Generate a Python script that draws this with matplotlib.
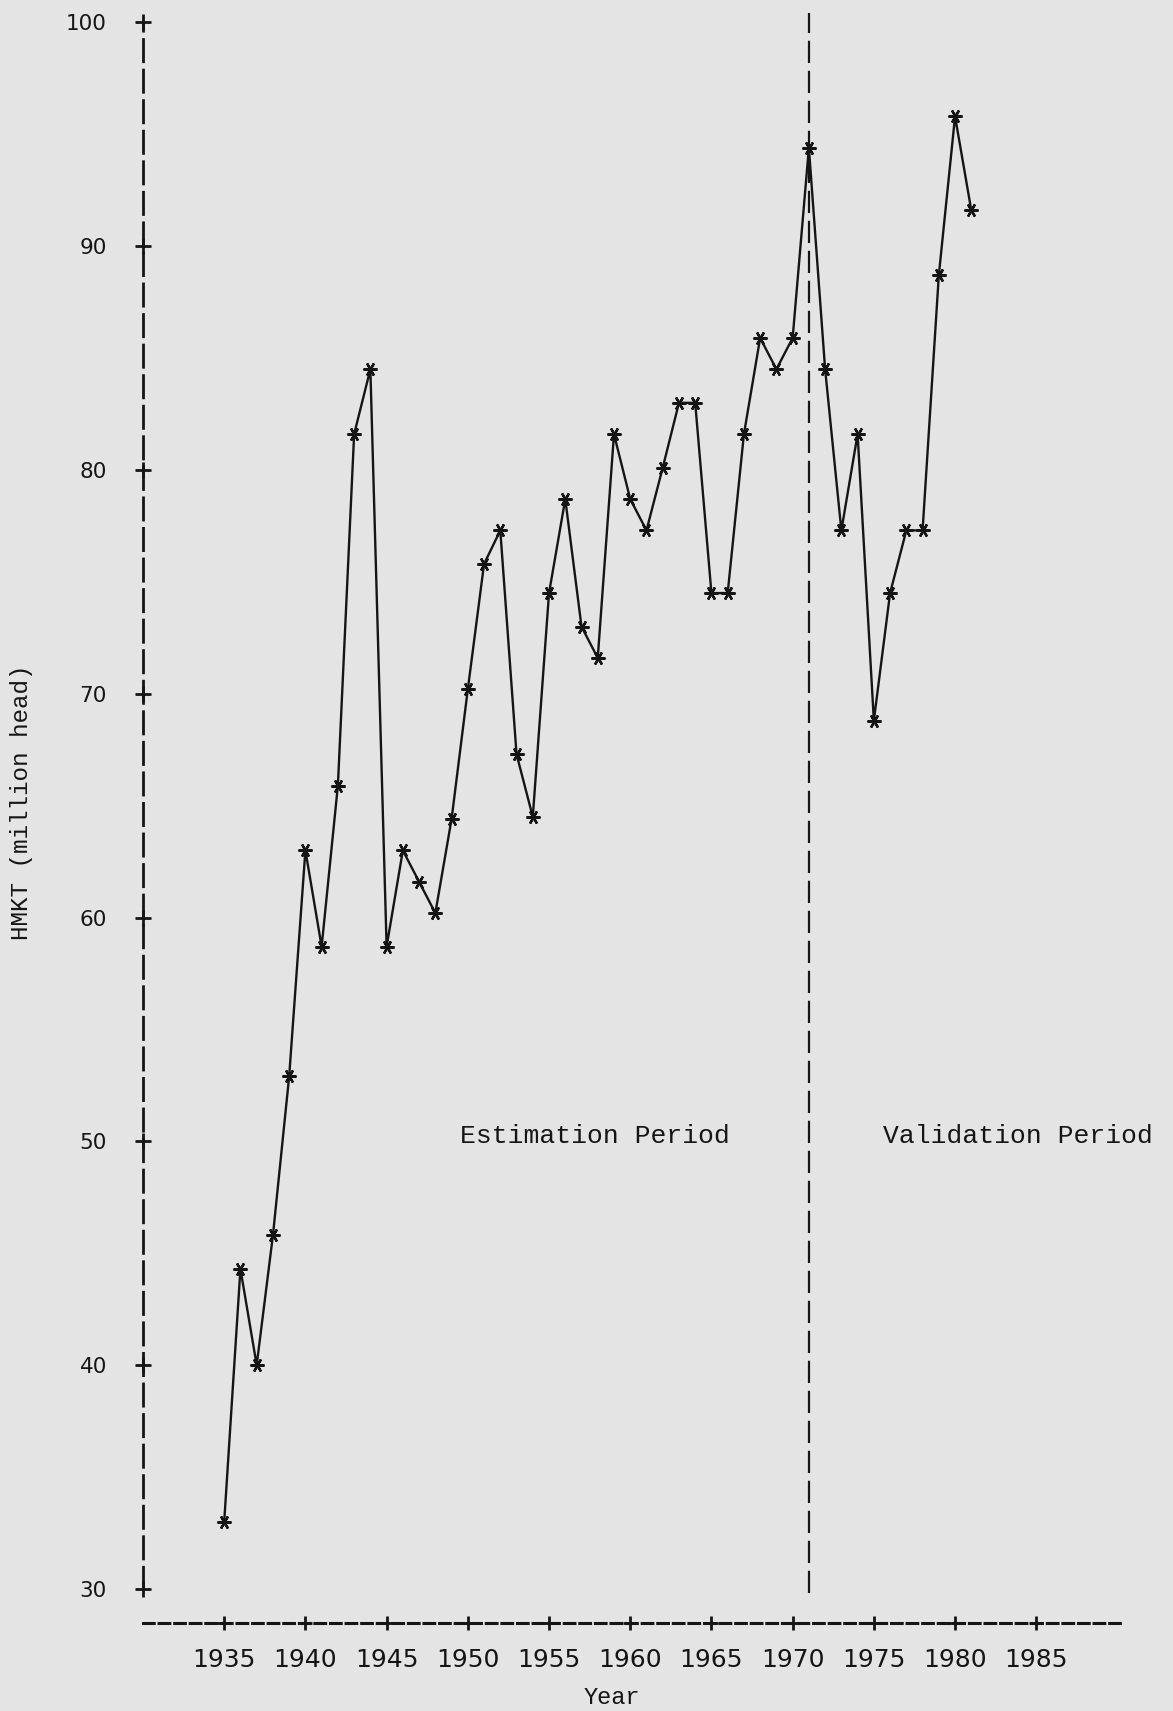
import matplotlib
matplotlib.use('Agg')
import matplotlib.pyplot as plt

# datos
years = list(range(1935, 1982))
hmkt = [33.0, 44.3, 40.0, 45.8, 52.9, 63.0, 58.7, 65.9, 81.6, 84.5,
        58.7, 63.0, 61.6, 60.2, 64.4, 70.2, 75.8, 77.3, 67.3, 64.5,
        74.5, 78.7, 73.0, 71.6, 81.6, 78.7, 77.3, 80.1, 83.0, 83.0,
        74.5, 74.5, 81.6, 85.9, 84.5, 85.9, 94.4, 84.5, 77.3, 81.6,
        68.8, 74.5, 77.3, 77.3, 88.7, 95.8, 91.6]
split_year = 1971
xticks = [1935, 1940, 1945, 1950, 1955, 1960, 1965, 1970, 1975, 1980, 1985]
yticks = [30, 40, 50, 60, 70, 80, 90, 100]

bg = '#e4e4e4'
ink = '#151515'

fig = plt.figure(figsize=(11.73, 17.11), dpi=100, facecolor=bg)
ax = fig.add_axes([0.1219, 0.0517, 0.8363, 0.9483])
ax.set_facecolor(bg)
ax.set_xlim(1930, 1990.4)
ax.set_ylim(28.5, 101)

# ejes punteados estilo impresora
for s in ['top', 'right']:
    ax.spines[s].set_visible(False)
ax.spines['left'].set_bounds(30, 100)
ax.spines['left'].set_linestyle((0, (8, 3)))
ax.spines['left'].set_linewidth(2)
ax.spines['left'].set_color(ink)
ax.spines['bottom'].set_linestyle((0, (3.5, 1.6)))
ax.spines['bottom'].set_linewidth(2.2)
ax.spines['bottom'].set_color(ink)

ax.set_xticks(xticks)
ax.set_yticks(yticks)
ax.set_xticklabels([str(x) for x in xticks],
                   family=['Liberation Sans Narrow', 'DejaVu Sans'], fontsize=18)
ax.set_yticklabels([str(y) for y in yticks], family='DejaVu Sans', fontsize=15.5)
ax.tick_params(axis='x', length=0, pad=18, colors=ink)
ax.tick_params(axis='y', length=0, pad=26, colors=ink)

# marcas '+' sobre los ejes
ax.plot([1930] * len(yticks), yticks, '+', ms=11, mew=2, color=ink, clip_on=False)
ax.plot(xticks, [28.5] * len(xticks), '+', ms=10, mew=2, color=ink, clip_on=False)

# linea divisoria estimacion / validacion
ax.axvline(split_year, ymin=0.018, ymax=0.992, color=ink, lw=1.6,
           linestyle=(0, (10, 3.5)))

# serie
ax.plot(years, hmkt, color=ink, lw=1.7, marker=(6, 2, 90), ms=10, mew=1.7)

ax.text(1957.8, 50.25, 'Estimation Period', ha='center', va='center',
        family='Liberation Mono', fontsize=19, color=ink)
ax.text(1983.9, 50.25, 'Validation Period', ha='center', va='center',
        family='Liberation Mono', fontsize=19, color=ink)

fig.text(612 / 1173, 1 - 1697 / 1711, 'Year', ha='center', va='center',
         family='Liberation Mono', fontsize=17, color=ink)
fig.text(22 / 1173, 1 - 802 / 1711, 'HMKT (million head)', ha='center', va='center',
         rotation=90, family='Liberation Mono', fontsize=17.5, color=ink)

fig.savefig('out.png', dpi=100, facecolor=bg)
